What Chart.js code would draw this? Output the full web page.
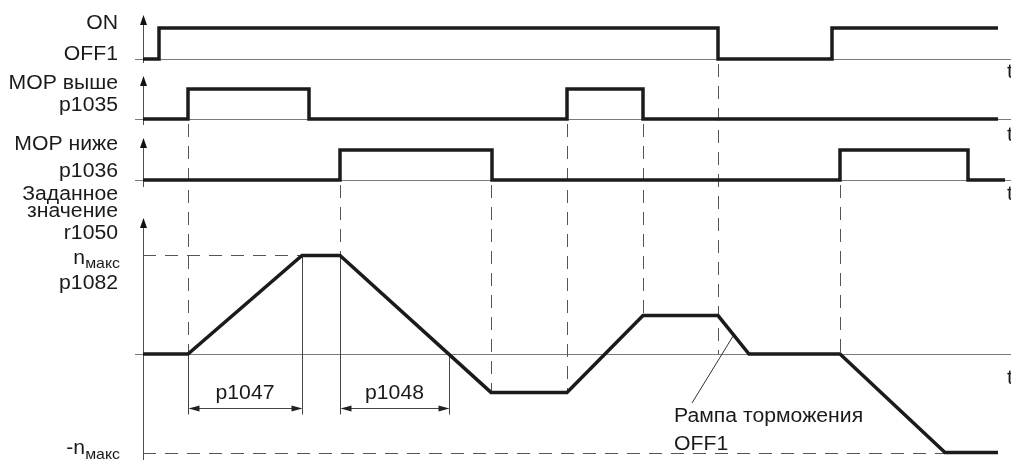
<!DOCTYPE html>
<html><head><meta charset="utf-8">
<script src="https://cdn.jsdelivr.net/npm/chart.js@4.4.1/dist/chart.umd.min.js"></script>
<style>html,body{margin:0;padding:0;background:#fff}#wrap{width:1011px;height:460px;position:relative}</style>
</head><body><div id="wrap"><canvas id="c" width="1011" height="460"></canvas></div>
<script>
// ---------------- data (time along the diagram, logic levels / setpoint in units of n_max) -------------
const onTimes    = [0, 16, 575, 689, 855];
const onLevels   = [0, 1, 0, 1, 1];
const upTimes    = [0, 45, 166, 424, 500, 855];
const upLevels   = [0, 1, 0, 1, 0, 0];
const downTimes  = [0, 197, 349, 697, 825, 862];
const downLevels = [0, 1, 0, 1, 0, 0];
const spTimes    = [0, 45, 159, 197, 348, 424, 500, 575, 606, 697, 802, 855];
const spValues   = [0, 0, 1, 1, -0.39, -0.39, 0.39, 0.39, 0, 0, -1, -1];
const nMax = 1;
// dashed guide lines: event time, signal panel it starts from, setpoint level it reaches
const guideTimes = [45, 197, 348, 424, 500, 575, 697];
const guideFrom  = ['yUp', 'yDown', 'yDown', 'yUp', 'yUp', 'yOn', 'yDown'];
const guideTo    = [0, 1, -0.39, -0.39, 0.39, 0, 0];
// ramp-time dimensions
const dimLabels   = ['p1047', 'p1048'];
const dimStart    = [45, 197];
const dimEnd      = [159, 306];
const dimStartLvl = [0, 1];
const dimEndLvl   = [1, 0];
const nMaxDashEnd = 159;
const nMinDashEnd = 802;
const leaderTime  = 590;
const tEndMax     = 868;

// ---------------- layout -------------
const W = 1011, H = 460, AXIS_X = 143;
const panelIds  = ['yOn', 'yUp', 'yDown', 'ySet'];
const panelBase = {yOn: 59, yUp: 119, yDown: 180, ySet: 354};
const panelUnit = {yOn: 31, yUp: 30, yDown: 30, ySet: 98.5};
const axisTop   = {yOn: 15, yUp: 76, yDown: 138, ySet: 218};
const axisBot   = {yOn: 63, yUp: 125, yDown: 187, ySet: 460};
function band(id) {
  const b = panelBase[id], u = panelUnit[id];
  return {min: (b - H) / u, max: b / u};
}
const FONT = '"Liberation Sans", Arial, sans-serif';
const SX = 1.06;       // horizontal stretch of the lettering
const INK = '#1b1b1b';

function seg(ctx, x1, y1, x2, y2) { ctx.beginPath(); ctx.moveTo(x1, y1); ctx.lineTo(x2, y2); ctx.stroke(); }
function txt(ctx, s, x, y, align, size) {
  ctx.save();
  ctx.font = size + 'px ' + FONT;
  ctx.textAlign = 'left'; ctx.textBaseline = 'alphabetic';
  const w = ctx.measureText(s).width * SX;
  const x0 = align === 'right' ? x - w : align === 'center' ? x - w / 2 : x;
  ctx.translate(x0, y); ctx.scale(SX, 1);
  ctx.fillText(s, 0, 0);
  ctx.restore();
  return w;
}
function arrowHead(ctx, tipX, tipY, dx, dy, len, half) {
  const bx = tipX - dx * len, by = tipY - dy * len;
  ctx.beginPath();
  ctx.moveTo(tipX, tipY);
  ctx.lineTo(bx - dy * half, by + dx * half);
  ctx.lineTo(bx + dy * half, by - dx * half);
  ctx.closePath(); ctx.fill();
}
function interp(ts, vs, t) {
  for (let i = 1; i < ts.length; i++) {
    if (t <= ts[i]) { const f = (t - ts[i-1]) / (ts[i] - ts[i-1]); return vs[i-1] + f * (vs[i] - vs[i-1]); }
  }
  return vs[vs.length - 1];
}

const diagram = {
  id: 'diagram',
  beforeDatasetsDraw(chart) {
    const {ctx, scales: s} = chart;
    const X = t => s.x.getPixelForValue(t);
    const Y = (id, v) => s[id].getPixelForValue(v);
    const p = v => Math.round(v) + 0.5;
    ctx.save();
    ctx.lineWidth = 1;
    // baselines
    ctx.strokeStyle = '#7a7a7a';
    for (const id of panelIds) { const y = p(Y(id, 0)); seg(ctx, X(0) - 8, y, W, y); }
    // vertical axes with arrows
    ctx.strokeStyle = '#505050'; ctx.fillStyle = '#111';
    const ax = p(X(0));
    for (const id of panelIds) {
      seg(ctx, ax, axisTop[id] + 6, ax, axisBot[id]);
      arrowHead(ctx, ax, axisTop[id], 0, -1, 10, 3.5);
    }
    // dashed guides
    ctx.strokeStyle = '#555';
    ctx.setLineDash([13, 9]);
    guideTimes.forEach((t, i) => {
      const x = p(X(t));
      seg(ctx, x, Y(guideFrom[i], 0) + 5, x, Y('ySet', guideTo[i]));
    });
    const yMax = p(Y('ySet', nMax)), yMin = p(Y('ySet', -nMax));
    seg(ctx, X(0), yMax, X(nMaxDashEnd), yMax);
    seg(ctx, X(0), yMin, X(nMinDashEnd), yMin);
    ctx.setLineDash([]);
    // dimension lines
    ctx.strokeStyle = '#444'; ctx.fillStyle = '#222';
    const zero = Y('ySet', 0);
    dimLabels.forEach((lab, i) => {
      const xs = p(X(dimStart[i])), xe = p(X(dimEnd[i]));
      const yd = p(zero + 54);
      seg(ctx, xs, Y('ySet', dimStartLvl[i]), xs, yd + 6);
      seg(ctx, xe, Y('ySet', dimEndLvl[i]), xe, yd + 6);
      seg(ctx, xs + 4, yd, xe - 4, yd);
      arrowHead(ctx, xs, yd, -1, 0, 11, 3);
      arrowHead(ctx, xe, yd, 1, 0, 11, 3);
    });
    // leader for the OFF1 ramp
    ctx.strokeStyle = '#333';
    const lx = X(leaderTime), ly = Y('ySet', interp(spTimes, spValues, leaderTime));
    seg(ctx, lx, ly + 2, lx - 41, zero + 49);
    ctx.restore();
  },
  afterDraw(chart) {
    const {ctx, scales: s} = chart;
    const X = t => s.x.getPixelForValue(t);
    const Y = (id, v) => s[id].getPixelForValue(v);
    ctx.save();
    ctx.fillStyle = '#1a1a1a';
    const R = 118, F = 20, SUB = 15;
    txt(ctx, 'ON', R, 29, 'right', F);
    txt(ctx, 'OFF1', R, 60, 'right', F);
    txt(ctx, 'MOP выше', R, 89, 'right', F);
    txt(ctx, 'p1035', R, 111, 'right', F);
    txt(ctx, 'MOP ниже', R, 150, 'right', F);
    txt(ctx, 'p1036', R, 177, 'right', F);
    txt(ctx, 'Заданное', R, 200, 'right', F);
    txt(ctx, 'значение', R, 217, 'right', F);
    txt(ctx, 'r1050', R, 239, 'right', F);
    let w = txt(ctx, 'макс', R + 2, 268, 'right', SUB);
    txt(ctx, 'n', R + 2 - w, 264, 'right', F);
    txt(ctx, 'p1082', R, 289, 'right', F);
    w = txt(ctx, 'макс', R + 2, 459, 'right', SUB);
    txt(ctx, '-n', R + 2 - w, 454, 'right', F);
    // time letters at the right edge (partly cut off, as in the original)
    const tOff = {yOn: 19, yUp: 22, yDown: 20, ySet: 30};
    for (const id of panelIds) txt(ctx, 't', W - 4, Y(id, 0) + tOff[id], 'left', F);
    // dimension labels
    const zero = Y('ySet', 0);
    dimLabels.forEach((lab, i) => {
      txt(ctx, lab, (X(dimStart[i]) + X(dimEnd[i])) / 2, zero + 45, 'center', F);
    });
    // ramp annotation
    txt(ctx, 'Рампа торможения', X(531), 422, 'left', F);
    txt(ctx, 'OFF1', X(531), 450, 'left', F);
    ctx.restore();
  }
};

function sig(ts, vs) { return ts.map((t, i) => ({x: t, y: vs[i]})); }
const thick = {borderColor: INK, borderWidth: 3.5, pointRadius: 0, fill: false, tension: 0,
               borderJoinStyle: 'miter', borderCapStyle: 'butt', clip: false, showLine: true};

new Chart(document.getElementById('c'), {
  type: 'line',
  data: {datasets: [
    {label: 'ON/OFF1', data: sig(onTimes, onLevels), yAxisID: 'yOn', stepped: true, ...thick},
    {label: 'MOP выше', data: sig(upTimes, upLevels), yAxisID: 'yUp', stepped: true, ...thick},
    {label: 'MOP ниже', data: sig(downTimes, downLevels), yAxisID: 'yDown', stepped: true, ...thick},
    {label: 'r1050', data: sig(spTimes, spValues), yAxisID: 'ySet', stepped: false, ...thick}
  ]},
  options: {
    responsive: false, devicePixelRatio: 1, animation: false,
    layout: {padding: {left: AXIS_X, right: W - AXIS_X - tEndMax, top: 0, bottom: 0}},
    plugins: {legend: {display: false}, tooltip: {enabled: false}, title: {display: false}},
    scales: {
      x: {type: 'linear', min: 0, max: tEndMax, display: false},
      yOn:   {axis: 'y', type: 'linear', display: false, ...band('yOn')},
      yUp:   {axis: 'y', type: 'linear', display: false, ...band('yUp')},
      yDown: {axis: 'y', type: 'linear', display: false, ...band('yDown')},
      ySet:  {axis: 'y', type: 'linear', display: false, ...band('ySet')}
    }
  },
  plugins: [diagram]
});
</script></body></html>
